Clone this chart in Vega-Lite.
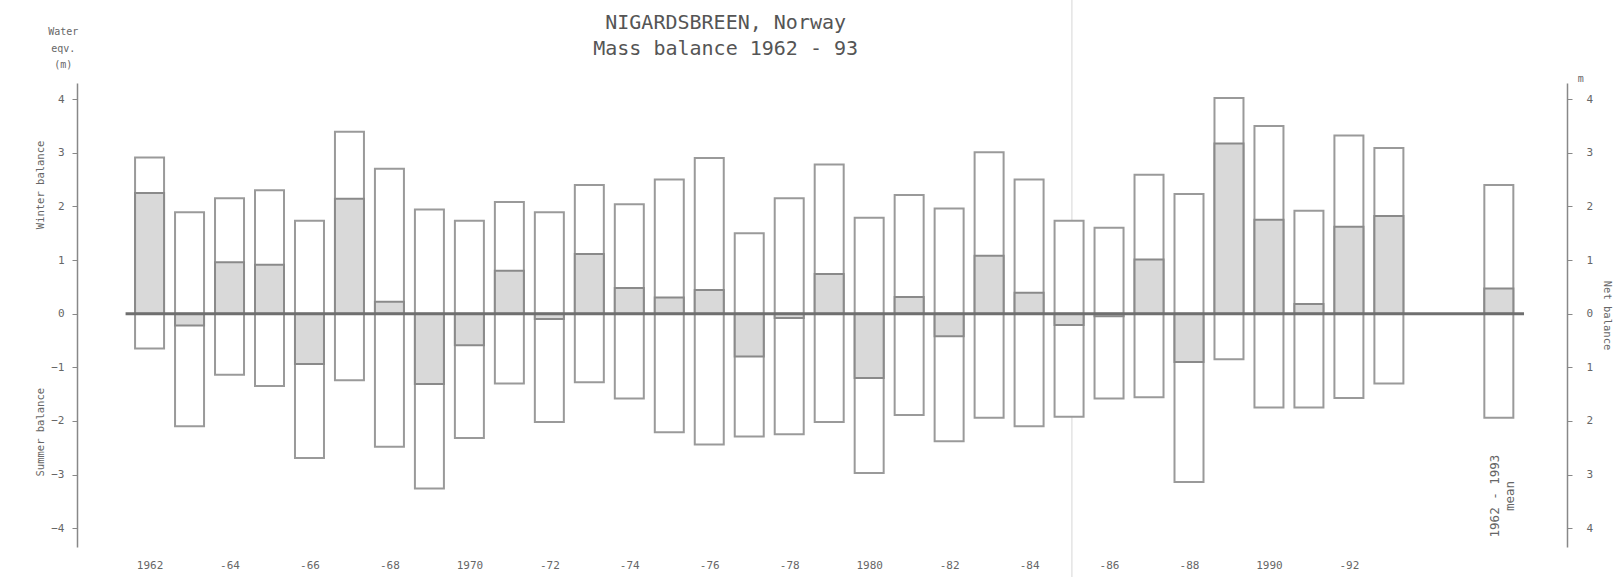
{
  "$schema": "https://vega.github.io/schema/vega-lite/v6.json",
  "width": 1490,
  "height": 464,
  "autosize": {"type": "none"},
  "padding": {"left": 77, "top": 83, "right": 47, "bottom": 30},
  "background": "white",
  "config": {
    "view": {"stroke": null},
    "axis": {"labelFont": "DejaVu Sans Mono", "labelColor": "#666", "domainColor": "#888", "tickColor": "#888", "grid": false, "titleFont": "DejaVu Sans Mono", "titleColor": "#666", "titleFontWeight": "normal"}
  },
  "datasets": {
    "mb": [
      {"year": 1962, "bw": 2.91, "bs": -0.65, "bn": 2.25},
      {"year": 1963, "bw": 1.89, "bs": -2.10, "bn": -0.22},
      {"year": 1964, "bw": 2.15, "bs": -1.14, "bn": 0.96},
      {"year": 1965, "bw": 2.30, "bs": -1.35, "bn": 0.91},
      {"year": 1966, "bw": 1.73, "bs": -2.69, "bn": -0.94},
      {"year": 1967, "bw": 3.39, "bs": -1.24, "bn": 2.14},
      {"year": 1968, "bw": 2.70, "bs": -2.48, "bn": 0.22},
      {"year": 1969, "bw": 1.94, "bs": -3.26, "bn": -1.31},
      {"year": 1970, "bw": 1.73, "bs": -2.32, "bn": -0.59},
      {"year": 1971, "bw": 2.08, "bs": -1.30, "bn": 0.80},
      {"year": 1972, "bw": 1.89, "bs": -2.02, "bn": -0.10},
      {"year": 1973, "bw": 2.40, "bs": -1.28, "bn": 1.11},
      {"year": 1974, "bw": 2.04, "bs": -1.58, "bn": 0.48},
      {"year": 1975, "bw": 2.50, "bs": -2.21, "bn": 0.30},
      {"year": 1976, "bw": 2.90, "bs": -2.44, "bn": 0.44},
      {"year": 1977, "bw": 1.50, "bs": -2.29, "bn": -0.80},
      {"year": 1978, "bw": 2.15, "bs": -2.25, "bn": -0.08},
      {"year": 1979, "bw": 2.78, "bs": -2.02, "bn": 0.74},
      {"year": 1980, "bw": 1.79, "bs": -2.97, "bn": -1.20},
      {"year": 1981, "bw": 2.21, "bs": -1.89, "bn": 0.31},
      {"year": 1982, "bw": 1.96, "bs": -2.38, "bn": -0.42},
      {"year": 1983, "bw": 3.01, "bs": -1.94, "bn": 1.08},
      {"year": 1984, "bw": 2.50, "bs": -2.10, "bn": 0.39},
      {"year": 1985, "bw": 1.73, "bs": -1.92, "bn": -0.21},
      {"year": 1986, "bw": 1.60, "bs": -1.58, "bn": -0.05},
      {"year": 1987, "bw": 2.59, "bs": -1.56, "bn": 1.01},
      {"year": 1988, "bw": 2.23, "bs": -3.14, "bn": -0.90},
      {"year": 1989, "bw": 4.02, "bs": -0.85, "bn": 3.17},
      {"year": 1990, "bw": 3.50, "bs": -1.75, "bn": 1.75},
      {"year": 1991, "bw": 1.92, "bs": -1.75, "bn": 0.18},
      {"year": 1992, "bw": 3.32, "bs": -1.57, "bn": 1.62},
      {"year": 1993, "bw": 3.09, "bs": -1.30, "bn": 1.82},
      {"year": 1995.75, "bw": 2.40, "bs": -1.94, "bn": 0.47, "label": "mean"}
    ]
  },
  "resolve": {"scale": {"y": "independent"}},
  "layer": [
    {
      "data": {"values": [{}]},
      "mark": {"type": "rule", "color": "#e4e4e4", "strokeWidth": 1.5},
      "encoding": {
        "x": {"datum": 1985.07, "type": "quantitative", "scale": {"domain": [1960.31, 1997.33]}},
        "y": {"datum": -4.95, "type": "quantitative", "scale": {"domain": [-4.35, 4.3], "nice": false, "zero": false}, "axis": null},
        "y2": {"datum": 5.85}
      }
    },
    {
      "data": {"name": "mb"},
      "mark": {"type": "bar", "width": 29, "fill": "white", "stroke": "#9a9a9a", "strokeWidth": 2},
      "encoding": {
        "x": {
          "field": "year", "type": "quantitative",
          "scale": {"domain": [1960.31, 1997.33]},
          "axis": {
            "title": null, "domain": false, "ticks": false, "labelPadding": 12, "labelFontSize": 11,
            "values": [1962, 1964, 1966, 1968, 1970, 1972, 1974, 1976, 1978, 1980, 1982, 1984, 1986, 1988, 1990, 1992],
            "labelExpr": "(datum.value % 10 == 0 || datum.value == 1962) ? toString(datum.value) : '-' + substring(toString(datum.value), 2, 4)"
          }
        },
        "y": {
          "field": "bw", "type": "quantitative",
          "scale": {"domain": [-4.35, 4.3], "nice": false, "zero": false},
          "axis": {"title": null, "values": [-4, -3, -2, -1, 0, 1, 2, 3, 4], "tickSize": 5, "labelPadding": 8, "labelFontSize": 11, "domainWidth": 1.5}
        },
        "y2": {"field": "bs"}
      }
    },
    {
      "data": {"name": "mb"},
      "mark": {"type": "bar", "width": 29, "fill": "#d9d9d9", "stroke": "#8a8a8a", "strokeWidth": 2},
      "encoding": {
        "x": {"field": "year", "type": "quantitative", "scale": {"domain": [1960.31, 1997.33]}},
        "y": {
          "field": "bn", "type": "quantitative",
          "scale": {"domain": [-4.35, 4.3], "nice": false, "zero": false},
          "axis": {"title": "Net balance", "orient": "right", "values": [-4, -3, -2, -1, 0, 1, 2, 3, 4], "labelExpr": "toString(abs(datum.value))", "tickSize": 5, "labelPadding": 14, "labelFontSize": 11, "domainWidth": 1.5, "titleFontSize": 10.5, "titlePadding": 9}
        },
        "y2": {"datum": 0}
      }
    },
    {
      "data": {"values": [{}]},
      "mark": {"type": "rule", "color": "#6f6f6f", "strokeWidth": 3},
      "encoding": {
        "x": {"datum": 1961.4, "type": "quantitative", "scale": {"domain": [1960.31, 1997.33]}},
        "x2": {"datum": 1996.38},
        "y": {"datum": 0, "type": "quantitative", "scale": {"domain": [-4.35, 4.3], "nice": false, "zero": false}, "axis": null}
      }
    },
    {
      "data": {"values": [{"t": "Winter balance", "px": 1959.29, "py": 2.4}, {"t": "Summer balance", "px": 1959.29, "py": -2.21}]},
      "mark": {"type": "text", "angle": 270, "font": "DejaVu Sans Mono", "fontSize": 10.5, "color": "#666", "align": "center", "baseline": "middle"},
      "encoding": {
        "x": {"field": "px", "type": "quantitative", "scale": {"domain": [1960.31, 1997.33]}},
        "y": {"field": "py", "type": "quantitative", "scale": {"domain": [-4.35, 4.3], "nice": false, "zero": false}, "axis": null},
        "text": {"field": "t"}
      }
    },
    {
      "data": {"values": [{}]},
      "mark": {"type": "text", "text": "NIGARDSBREEN, Norway\nMass balance 1962 - 93", "lineBreak": "\n", "lineHeight": 26, "font": "DejaVu Sans Mono", "fontSize": 20, "color": "#555", "align": "center", "baseline": "middle"},
      "encoding": {
        "x": {"datum": 1976.41, "type": "quantitative", "scale": {"domain": [1960.31, 1997.33]}},
        "y": {"datum": 5.42, "type": "quantitative", "scale": {"domain": [-4.35, 4.3], "nice": false, "zero": false}, "axis": null}
      }
    },
    {
      "data": {"values": [{}]},
      "mark": {"type": "text", "text": "Water\neqv.\n(m)", "lineBreak": "\n", "lineHeight": 16.5, "font": "DejaVu Sans Mono", "fontSize": 10, "color": "#666", "align": "center", "baseline": "middle"},
      "encoding": {
        "x": {"datum": 1959.84, "type": "quantitative", "scale": {"domain": [1960.31, 1997.33]}},
        "y": {"datum": 5.25, "type": "quantitative", "scale": {"domain": [-4.35, 4.3], "nice": false, "zero": false}, "axis": null}
      }
    },
    {
      "data": {"values": [{}]},
      "mark": {"type": "text", "text": "m", "font": "DejaVu Sans Mono", "fontSize": 10, "color": "#666", "align": "center", "baseline": "middle"},
      "encoding": {
        "x": {"datum": 1997.8, "type": "quantitative", "scale": {"domain": [1960.31, 1997.33]}},
        "y": {"datum": 4.37, "type": "quantitative", "scale": {"domain": [-4.35, 4.3], "nice": false, "zero": false}, "axis": null}
      }
    },
    {
      "data": {"values": [{}]},
      "mark": {"type": "text", "text": "1962 - 1993\nmean", "lineBreak": "\n", "lineHeight": 15, "angle": 270, "font": "DejaVu Sans Mono", "fontSize": 12.5, "color": "#666", "align": "center", "baseline": "middle"},
      "encoding": {
        "x": {"datum": 1995.66, "type": "quantitative", "scale": {"domain": [1960.31, 1997.33]}},
        "y": {"datum": -3.4, "type": "quantitative", "scale": {"domain": [-4.35, 4.3], "nice": false, "zero": false}, "axis": null}
      }
    }
  ]
}
